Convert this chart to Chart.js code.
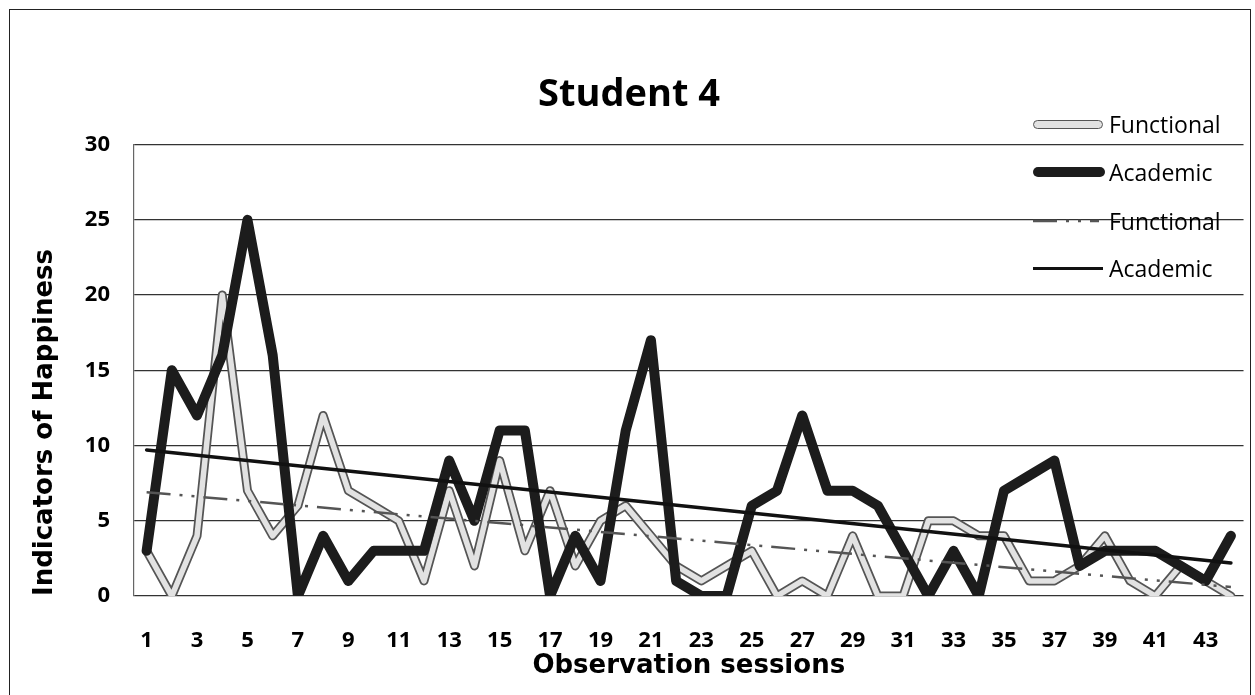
<!DOCTYPE html>
<html>
<head>
<meta charset="utf-8">
<script src="https://cdn.jsdelivr.net/npm/chart.js@4.4.1/dist/chart.umd.min.js"></script>
<style>
  html, body { margin: 0; padding: 0; background: #fff; }
  #wrap { position: relative; width: 1255px; height: 695px; overflow: hidden; }
  #frame { position: absolute; left: 9px; top: 9px; width: 1240px; height: 700px; border: 1.5px solid #222; pointer-events: none; }
  .item { position: absolute; left: 1033px; height: 32px; display: flex; align-items: center;
          font-family: 'Open Sans', sans-serif; font-size: 23px; color: #000; }
  .swatch { width: 76px; display: flex; align-items: center; }
  .s-func { width: 70px; height: 9px; box-sizing: border-box; background: #e2e2e2; border: 1.5px solid #555; border-radius: 5px; }
  .s-acad { width: 72px; height: 10px; background: #1c1c1c; border-radius: 5px; }
  .s-acad-trend { width: 70px; height: 3px; background: #111; }
</style>
</head>
<body>
<div id="wrap">
  <canvas id="chart" width="1255" height="695"></canvas>
  <div id="frame"></div>
  <div class="item" style="top:108px"><span class="swatch"><span class="s-func"></span></span>Functional</div>
  <div class="item" style="top:156px"><span class="swatch"><span class="s-acad"></span></span>Academic</div>
  <div class="item" style="top:205px"><span class="swatch"><svg width="66" height="6"><line x1="0" y1="3" x2="66" y2="3" stroke="#555" stroke-width="2.5" stroke-dasharray="24 9 3 9 3 9"/></svg></span>Functional</div>
  <div class="item" style="top:252px"><span class="swatch"><span class="s-acad-trend"></span></span>Academic</div>
</div>
<script>
// observation sessions
const sessions = ['1','2','3','4','5','6','7','8','9','10','11','12','13','14','15','16','17','18','19','20','21','22',
  '23','24','25','26','27','28','29','30','31','32','33','34','35','36','37','38','39','40','41','42','43','44'];

// indicators of happiness per session
const functional = [3, 0, 4, 20, 7, 4, 6, 12, 7, 6, 5, 1, 7, 2, 9, 3, 7, 2, 5, 6, 4, 2,
  1, 2, 3, 0, 1, 0, 4, 0, 0, 5, 5, 4, 4, 1, 1, 2, 4, 1, 0, 2, 1, 0];
const academic = [3, 15, 12, 16, 25, 16, 0, 4, 1, 3, 3, 3, 9, 5, 11, 11, 0, 4, 1, 11, 17, 1,
  0, 0, 6, 7, 12, 7, 7, 6, 3, 0, 3, 0, 7, 8, 9, 2, 3, 3, 3, 2, 1, 4];

// linear trend lines, value at first and last session
const functionalTrend = [6.9, 0.6];
const academicTrend = [9.7, 2.2];

const yTicks = [0, 5, 10, 15, 20, 25, 30];

function trendLine(ends) {
  return sessions.map((_, i) => i === 0 ? ends[0] : (i === sessions.length - 1 ? ends[1] : null));
}

const tickFont = { family: 'Open Sans', weight: 'bold', size: 22 };
const axisTitleFont = { family: 'DejaVu Sans', weight: 'bold', size: 26 };

const line = { pointRadius: 0, tension: 0, borderJoinStyle: 'round', borderCapStyle: 'round', fill: false };

new Chart(document.getElementById('chart'), {
  type: 'line',
  data: {
    labels: sessions,
    datasets: [
      { ...line, label: 'Functional', data: functional, borderColor: '#555', borderWidth: 9, order: 5 },
      { ...line, label: 'Functional inner', data: functional, borderColor: '#e2e2e2', borderWidth: 5.5, order: 4 },
      { ...line, label: 'Academic', data: academic, borderColor: '#1c1c1c', borderWidth: 10, order: 3 },
      { ...line, label: 'Functional trend', data: trendLine(functionalTrend), borderColor: '#555', borderWidth: 2.5,
        borderDash: [24, 9, 3, 9, 3, 9], borderCapStyle: 'butt', spanGaps: true, order: 2 },
      { ...line, label: 'Academic trend', data: trendLine(academicTrend), borderColor: '#111', borderWidth: 3.5,
        spanGaps: true, order: 1 }
    ]
  },
  options: {
    responsive: false,
    animation: false,
    layout: { padding: { left: 10, right: 7, top: 0, bottom: 10 } },
    plugins: {
      legend: { display: false },
      tooltip: { enabled: false },
      title: {
        display: true,
        text: 'Student 4',
        color: '#000',
        font: { family: 'Open Sans', weight: 'bold', size: 38 },
        padding: { top: 72, bottom: 27 }
      }
    },
    scales: {
      x: {
        offset: true,
        grid: { display: false },
        border: { display: false },
        ticks: {
          autoSkip: false,
          maxRotation: 0,
          padding: 24,
          color: '#000',
          font: tickFont,
          callback: (v, i) => i % 2 === 0 ? sessions[i] : ''
        },
        title: { display: true, text: 'Observation sessions', color: '#000', font: axisTitleFont, padding: { top: 0, bottom: 3 } },
        afterFit: s => { s.height = 89; }
      },
      y: {
        min: 0,
        max: 30,
        afterBuildTicks: s => { s.ticks = yTicks.map(v => ({ value: v })); },
        grid: { color: '#333', lineWidth: 1.2, drawTicks: false },
        border: { display: true, color: '#666', width: 1.2 },
        ticks: { padding: 24, color: '#000', font: tickFont },
        title: { display: true, text: 'Indicators of Happiness', align: 'start', color: '#000', font: axisTitleFont, padding: { top: 20, bottom: 0 } },
        afterFit: s => { s.width = 124; }
      }
    }
  }
});
</script>
</body>
</html>
